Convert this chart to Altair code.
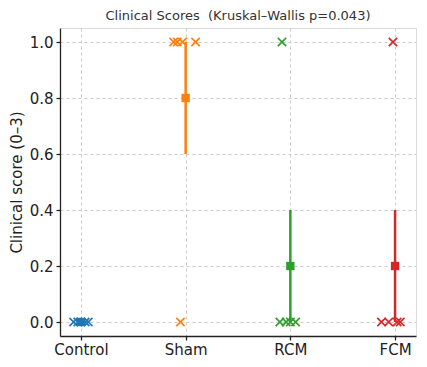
import altair as alt
import pandas as pd
import numpy as np

groups = ["Control", "Sham", "RCM", "FCM"]
colors = ["#1f77b4", "#ff7f0e", "#2ca02c", "#d62728"]

control_scores = [0, 0, 0, 0, 0]
sham_scores = [1, 1, 1, 1, 0]
rcm_scores = [0, 0, 0, 0, 1]
fcm_scores = [0, 0, 0, 0, 1]

control_jitter = [-0.07, -0.03, 0.0, 0.04, 0.07]
sham_jitter = [-0.115, -0.08, -0.03, 0.095, -0.05]
rcm_jitter = [-0.1, -0.04, 0.0, 0.05, -0.08]
fcm_jitter = [-0.13, -0.06, 0.02, 0.05, -0.02]

all_scores = [control_scores, sham_scores, rcm_scores, fcm_scores]
all_jitter = [control_jitter, sham_jitter, rcm_jitter, fcm_jitter]

rows = []
for gi, (g, sc, jt) in enumerate(zip(groups, all_scores, all_jitter)):
    for s, j in zip(sc, jt):
        rows.append({"group": g, "gx": gi + j, "score": s})
pts = pd.DataFrame(rows)

summ = []
for gi, (g, sc) in enumerate(zip(groups, all_scores)):
    a = np.array(sc, dtype=float)
    m = a.mean()
    se = a.std(ddof=1) / np.sqrt(len(a))
    summ.append({"group": g, "gx": gi, "mean": m, "lo": m - se, "hi": m + se})
summ = pd.DataFrame(summ)

color = alt.Color("group:N", scale=alt.Scale(domain=groups, range=colors), legend=None)

xscale = alt.Scale(domain=[-0.2, 3.2], nice=False, zero=False)
yscale = alt.Scale(domain=[-0.05, 1.05], nice=False, zero=False)

label_expr = "datum.value == 0 ? 'Control' : datum.value == 1 ? 'Sham' : datum.value == 2 ? 'RCM' : 'FCM'"

xaxis = alt.Axis(values=[0, 1, 2, 3], labelExpr=label_expr, title=None,
                 grid=True, gridDash=[3, 3], gridColor="#cccccc",
                 labelFontSize=15, labelColor="#222222", domainColor="#222222",
                 domainWidth=1.3, tickWidth=1.3,
                 tickColor="#222222", tickSize=4, labelPadding=2)
yaxis = alt.Axis(values=[0, 0.2, 0.4, 0.6, 0.8, 1.0], format=".1f",
                 title="Clinical score (0–3)", titleFontSize=15, titleFontWeight="normal",
                 titleColor="#222222", grid=True, gridDash=[3, 3], gridColor="#cccccc",
                 labelFontSize=15, labelColor="#222222", domainColor="#222222",
                 domainWidth=1.3, tickWidth=1.3,
                 tickColor="#222222", tickSize=4, labelPadding=3, titlePadding=5)

xpath = "M-1,-1L1,1M1,-1L-1,1"

points = alt.Chart(pts).mark_point(shape=xpath, filled=False, size=70, strokeWidth=1.6, opacity=1).encode(
    x=alt.X("gx:Q", scale=xscale, axis=xaxis),
    y=alt.Y("score:Q", scale=yscale, axis=yaxis),
    color=color,
)

err = alt.Chart(summ).mark_rule(strokeWidth=2.5).encode(
    x=alt.X("gx:Q", scale=xscale),
    y=alt.Y("lo:Q", scale=yscale),
    y2="hi:Q",
    color=color,
)

means = alt.Chart(summ).mark_square(size=70, opacity=1).encode(
    x=alt.X("gx:Q", scale=xscale),
    y=alt.Y("mean:Q", scale=yscale),
    color=color,
)

chart = alt.layer(err, points, means).properties(
    width=356, height=308,
    title=alt.TitleParams("Clinical Scores \u00a0(Kruskal–Wallis p=0.043)", fontSize=13,
                          fontWeight="normal", color="#333333", offset=5),
    autosize=alt.AutoSizeParams(type="none"),
    padding={"left": 52, "top": 20, "right": 3, "bottom": 23},
).configure_view(stroke=None).configure(font="DejaVu Sans")

chart.save("out.html", embed_options={"renderer": "svg", "actions": False})
